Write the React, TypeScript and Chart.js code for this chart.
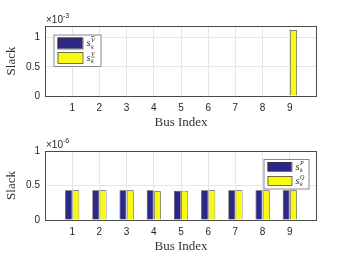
import React, { useEffect, useRef } from 'react';
import { Chart, registerables } from 'chart.js';
Chart.register(...registerables);

// ---- data ----
const busIndex = [1, 2, 3, 4, 5, 6, 7, 8, 9];
// top panel, values in units of 1e-3
const slackVUpper = [0, 0, 0, 0, 0, 0, 0, 0, 0];
const slackVLower = [0, 0, 0, 0, 0, 0, 0, 0, 1.13];
// bottom panel, values in units of 1e-6
const slackP = [0.43, 0.43, 0.43, 0.43, 0.425, 0.43, 0.43, 0.43, 0.43];
const slackQ = [0.43, 0.43, 0.43, 0.415, 0.425, 0.43, 0.43, 0.43, 0.43];
const yTickValues = [0, 0.5, 1];
const xLabel = 'Bus Index';
const yLabel = 'Slack';
const topExponent = '-3';
const bottomExponent = '-6';
const topLegendSup = ['V', 'V'];
const bottomLegendSup = ['P', 'Q'];

const SANS = '"Liberation Sans", Arial, Helvetica, sans-serif';
const SERIF = '"Liberation Serif", "Times New Roman", serif';
const BLUE = 'rgb(45,40,135)';
const YELLOW = 'rgb(249,250,20)';
const GRID = '#e6e6e6';
const AXIS = '#262626';

type PanelOpts = {
  a: number[];
  b: number[];
  yMax: number;
  padTop: number;
  xAxisH: number;
  exponent: string;
  sups: string[];
  decos: (string | null)[];
  legend: { x: number; y: number; w: number; h: number; sw: number; sh: number; gap: number };
};

function drawMath(ctx: CanvasRenderingContext2D, x: number, yc: number, sup: string, deco: string | null) {
  ctx.fillStyle = '#262626';
  ctx.textAlign = 'left';
  ctx.textBaseline = 'alphabetic';
  ctx.font = 'italic 10px ' + SERIF;
  ctx.fillText('s', x, yc + 3);
  ctx.font = 'italic 6px ' + SERIF;
  const w = ctx.measureText(sup).width;
  ctx.fillText(sup, x + 4.5, yc - 1.5);
  ctx.fillText('k', x + 4.5, yc + 5.5);
  if (deco) {
    ctx.strokeStyle = '#262626';
    ctx.lineWidth = 0.6;
    ctx.beginPath();
    const ly = deco === 'over' ? yc - 6.5 : yc - 0.5;
    ctx.moveTo(x + 4.5, ly);
    ctx.lineTo(x + 4.5 + w, ly);
    ctx.stroke();
  }
}

function makeConfig(o: PanelOpts): any {
  const decorPlugin = {
    id: 'decor',
    afterDraw(chart: any) {
      const ctx: CanvasRenderingContext2D = chart.ctx;
      const { left, top, right, bottom } = chart.chartArea;
      ctx.save();
      // box
      ctx.strokeStyle = '#4a4a4a';
      ctx.lineWidth = 1;
      ctx.strokeRect(Math.round(left) + 0.5, Math.round(top) + 0.5, Math.round(right - left) - 1, Math.round(bottom - top));
      // exponent
      ctx.fillStyle = AXIS;
      ctx.textAlign = 'left';
      ctx.textBaseline = 'alphabetic';
      ctx.font = '10px ' + SANS;
      ctx.fillText('\u00d710', left + 1, top - 3);
      const w = ctx.measureText('\u00d710').width;
      ctx.font = '7px ' + SANS;
      ctx.fillText(o.exponent, left + 1 + w, top - 8);
      // axis titles
      ctx.font = '13px ' + SERIF;
      ctx.fillStyle = '#333';
      ctx.textAlign = 'center';
      ctx.textBaseline = 'middle';
      ctx.fillText(xLabel, (left + right) / 2, bottom + 27);
      ctx.save();
      ctx.translate(12, (top + bottom) / 2);
      ctx.rotate(-Math.PI / 2);
      ctx.fillText(yLabel, 0, 0);
      ctx.restore();
      // legend
      const L = o.legend;
      ctx.fillStyle = '#fff';
      ctx.fillRect(L.x, L.y, L.w, L.h);
      ctx.strokeStyle = '#8a8a8a';
      ctx.lineWidth = 1;
      ctx.strokeRect(L.x + 0.5, L.y + 0.5, L.w, L.h);
      const cols = [BLUE, YELLOW];
      for (let i = 0; i < 2; i++) {
        const sx = L.x + 4;
        const sy = L.y + 3 + i * L.gap;
        ctx.fillStyle = cols[i];
        ctx.fillRect(sx, sy, L.sw, L.sh);
        ctx.strokeStyle = '#333';
        ctx.lineWidth = 0.7;
        ctx.strokeRect(sx + 0.5, sy + 0.5, L.sw, L.sh);
        drawMath(ctx, sx + L.sw + 4, sy + L.sh / 2, o.sups[i], o.decos[i]);
      }
      ctx.restore();
    },
  };

  return {
    type: 'bar',
    data: {
      datasets: [
        {
          data: busIndex.map((x, i) => ({ x, y: o.a[i] })),
          backgroundColor: BLUE,
          borderColor: '#333',
          borderWidth: 0.7,
          categoryPercentage: 0.54,
          barPercentage: 0.93,
        },
        {
          data: busIndex.map((x, i) => ({ x, y: o.b[i] })),
          backgroundColor: YELLOW,
          borderColor: '#333',
          borderWidth: 0.7,
          categoryPercentage: 0.54,
          barPercentage: 0.93,
        },
      ],
    },
    options: {
      responsive: false,
      animation: false,
      events: [],
      layout: { padding: { top: o.padTop, right: 33, left: 0, bottom: 0 } },
      plugins: { legend: { display: false }, tooltip: { enabled: false } },
      scales: {
        x: {
          type: 'linear',
          min: 0,
          max: 10,
          offset: false,
          afterFit: (s: any) => { s.height = o.xAxisH; },
          afterBuildTicks: (s: any) => { s.ticks = [0, ...busIndex, 10].map((v) => ({ value: v })); },
          ticks: {
            autoSkip: false,
            maxRotation: 0,
            padding: 6,
            color: AXIS,
            font: { family: SANS, size: 10 },
            callback: (v: number) => (v >= 1 && v <= 9 ? String(v) : ''),
          },
          grid: {
            offset: false,
            drawTicks: false,
            color: (c: any) => (c.tick && c.tick.value >= 1 && c.tick.value <= 9 ? GRID : 'rgba(0,0,0,0)'),
          },
          border: { display: false },
        },
        y: {
          min: 0,
          max: o.yMax,
          afterFit: (s: any) => { s.width = 45; },
          afterBuildTicks: (s: any) => { s.ticks = yTickValues.map((v) => ({ value: v })); },
          ticks: {
            padding: 5,
            color: AXIS,
            font: { family: SANS, size: 10 },
            callback: (v: number) => String(v),
          },
          grid: {
            drawTicks: false,
            color: (c: any) => (c.tick && c.tick.value > 0 && c.tick.value < o.yMax ? GRID : 'rgba(0,0,0,0)'),
          },
          border: { display: false },
        },
      },
    },
    plugins: [decorPlugin],
  };
}

function Panel({ height, opts }: { height: number; opts: PanelOpts }) {
  const ref = useRef<HTMLCanvasElement>(null);
  useEffect(() => {
    if (!ref.current) return;
    const chart = new Chart(ref.current, makeConfig(opts));
    return () => chart.destroy();
  }, []);
  return <canvas ref={ref} width={350} height={height} style={{ display: 'block', width: 350, height }} />;
}

export default function App() {
  const topOpts: PanelOpts = {
    a: slackVUpper,
    b: slackVLower,
    yMax: 1.2,
    padTop: 26,
    xAxisH: 34,
    exponent: topExponent,
    sups: topLegendSup,
    decos: ['over', 'under'],
    legend: { x: 53.5, y: 34.5, w: 47, h: 31.5, sw: 25, sh: 11, gap: 14.6 },
  };
  const bottomOpts: PanelOpts = {
    a: slackP,
    b: slackQ,
    yMax: 1,
    padTop: 21,
    xAxisH: 43,
    exponent: bottomExponent,
    sups: bottomLegendSup,
    decos: [null, null],
    legend: { x: 263.5, y: 29, w: 45, h: 29.5, sw: 24, sh: 9, gap: 14 },
  };
  return (
    <div style={{ position: 'fixed', left: 0, top: 0, width: 350, height: 263, background: '#fff', fontFamily: SANS }}>
      <Panel height={130} opts={topOpts} />
      <Panel height={133} opts={bottomOpts} />
    </div>
  );
}
